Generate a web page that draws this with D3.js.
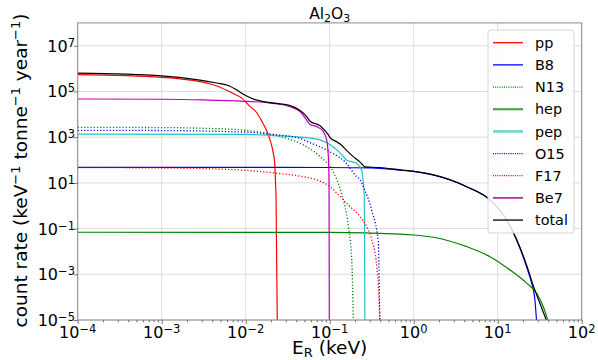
<!DOCTYPE html>
<html>
<head>
<meta charset="utf-8">
<script src="https://cdn.jsdelivr.net/npm/d3@7"></script>
<style>
  body { margin: 0; background: #fff; }
  svg { display: block; font-family: "DejaVu Sans", sans-serif; }
</style>
</head>
<body>
<div id="chart"></div>
<script>
// Spectra: [E_R (keV), count rate]
const pp = [[1e-4, 5.43e5], [1e-3, 4.17e5], [2.86e-3, 2.69e5], [4.52e-3, 1.74e5], [7.11e-3, 8.1e4],
  [8.91e-3, 5.25e4], [1.12e-2, 2.24e4], [1.35e-2, 1.2e4], [1.58e-2, 4.5e3], [1.78e-2, 1.9e3],
  [2.0e-2, 560], [2.13e-2, 200], [2.21e-2, 80], [2.26e-2, 12.6], [2.30e-2, 1.6], [2.33e-2, 0.01], [2.38e-2, 6e-6]];
const B8 = [[1e-4, 48], [1e-2, 47.5], [0.1, 47], [0.316, 45], [0.687, 36], [1.0, 31.6], [1.71, 22.4],
  [4.27, 6.8], [8.09, 1.78], [12.8, 0.24], [16.8, 0.032], [22.1, 2.1e-3], [25.4, 4e-4], [27.5, 1e-4], [29.1, 8e-6]];
const N13 = [[1e-4, 2.69e3], [1e-3, 2.63e3], [3.16e-3, 2.45e3], [1e-2, 2.0e3], [2.0e-2, 1.32e3],
  [3.37e-2, 794], [4.44e-2, 537], [7.67e-2, 141], [0.110, 31], [0.135, 4.5], [0.167, 0.12], [0.183, 4.3e-3], [0.191, 8.9e-6]];
const hep = [[1e-4, 0.069], [0.1, 0.068], [0.687, 0.0575], [1.0, 0.0525], [1.71, 0.0417], [4.27, 0.0162],
  [8.09, 5.9e-3], [14.0, 1.55e-3], [22.1, 4.1e-4], [29.1, 1.48e-4], [34.9, 3.8e-5], [39.8, 8.9e-6]];
const pep = [[1e-4, 1.35e3], [1e-2, 1.32e3], [3.37e-2, 1.07e3], [4.44e-2, 1.0e3], [7.67e-2, 759],
  [0.110, 380], [0.146, 141], [0.158, 100], [0.209, 72], [0.240, 36], [0.251, 11], [0.257, 3.2], [0.260, 0.1], [0.262, 8.9e-6]];
const O15 = [[1e-4, 2.0e3], [1e-3, 1.95e3], [1e-2, 1.66e3], [2.0e-2, 1.35e3], [4.44e-2, 891], [5.32e-2, 661],
  [0.1, 234], [0.158, 72], [0.209, 18.6], [0.231, 13.5], [0.251, 6.8], [0.316, 0.65], [0.380, 0.023], [0.390, 1.5e-4], [0.394, 8.9e-6]];
const F17 = [[1e-4, 46.8], [1e-3, 44.7], [4.52e-3, 40.7], [1e-2, 35.5], [2.51e-2, 25.7], [3.98e-2, 20.9],
  [7.0e-2, 13.5], [0.101, 6.8], [0.133, 2.5], [0.175, 0.91], [0.231, 0.33], [0.277, 0.12], [0.317, 0.032],
  [0.356, 4.3e-3], [0.380, 2.9e-4], [0.398, 8.9e-6]];
const Be7 = [[1e-4, 4.68e4], [1e-3, 4.57e4], [3.16e-3, 4.27e4], [8.55e-3, 3.8e4], [2.13e-2, 3.0e4],
  [3.37e-2, 2.14e4], [4.44e-2, 1.32e4], [5.32e-2, 5.6e3], [5.82e-2, 3.6e3], [7.0e-2, 2.9e3], [8.39e-2, 1.74e3],
  [9.2e-2, 760], [9.62e-2, 166], [9.82e-2, 10], [9.89e-2, 6e-6]];
const total = [[1e-4, 6.3e5], [1e-3, 4.8e5], [2.86e-3, 3.16e5], [4.52e-3, 2.34e5], [6.31e-3, 1.78e5],
  [7.94e-3, 1.12e5], [1e-2, 6.6e4], [1.26e-2, 4.5e4], [1.78e-2, 3.4e4], [3.37e-2, 2.4e4], [4.44e-2, 1.48e4], [5.32e-2, 7.9e3],
  [5.83e-2, 5.0e3], [7.67e-2, 3.16e3], [9.55e-2, 1.32e3], [0.101, 955], [0.121, 631], [0.133, 501], [0.159, 263],
  [0.191, 141], [0.219, 95], [0.240, 69], [0.263, 50], [0.398, 47], [0.687, 37], [1.0, 32], [1.71, 22.4],
  [4.27, 6.8], [8.09, 1.8], [12.8, 0.24], [16.8, 0.033], [22.1, 2.5e-3], [26.5, 3.2e-4], [31.8, 5.4e-5], [38.3, 8.9e-6]];

const seriesNames = ["pp", "B8", "N13", "hep", "pep", "O15", "F17", "Be7", "total"];
const seriesData = [pp, B8, N13, hep, pep, O15, F17, Be7, total];
const xTicks = [1e-4, 1e-3, 1e-2, 1e-1, 1e0, 1e1, 1e2];
const yTicks = [1e-5, 1e-3, 1e-1, 1e1, 1e3, 1e5, 1e7];

// styles per series (plot line / legend line)
const styles = {
  pp:    { color: "#ff0000", dash: null, legColor: "#ff0000", legW: 1.3 },
  B8:    { color: "#0000ff", dash: null, legColor: "#0000ff", legW: 1.3 },
  N13:   { color: "#008000", dash: "1.2,2", legColor: "#008000", legW: 1.2 },
  hep:   { color: "#008000", dash: null, legColor: "#4aa84a", legW: 2.2 },
  pep:   { color: "#20c4c4", dash: null, legColor: "#70d8d8", legW: 2.6 },
  O15:   { color: "#0000ff", dash: "1.2,2", legColor: "#0000ff", legW: 1.2 },
  F17:   { color: "#ff0000", dash: "1.2,2", legColor: "#ff0000", legW: 1.2 },
  Be7:   { color: "#c000c0", dash: null, legColor: "#b030b0", legW: 1.8 },
  total: { color: "#000000", dash: null, legColor: "#000000", legW: 1.3 }
};

const W = 598, H = 360;
const x0 = 77.7, x1 = 581.7, yb = 320, yt = 22.9;

const svg = d3.select("#chart").append("svg")
  .attr("width", W).attr("height", H);

const x = d3.scaleLog().domain([1e-4, 1e2]).range([x0, x1]);
const y = d3.scaleLog().domain([1e-5, 1e8]).range([yb, yt]);

// grid
const grid = svg.append("g");
xTicks.forEach(v => {
  grid.append("line").attr("x1", x(v)).attr("x2", x(v)).attr("y1", yt).attr("y2", yb)
    .attr("stroke", "#dcdcdc").attr("stroke-width", 1);
});
yTicks.forEach(v => {
  grid.append("line").attr("x1", x0).attr("x2", x1).attr("y1", y(v)).attr("y2", y(v))
    .attr("stroke", "#dcdcdc").attr("stroke-width", 1);
});

// clip for curves
svg.append("clipPath").attr("id", "plotclip")
  .append("rect").attr("x", x0).attr("y", yt).attr("width", x1 - x0).attr("height", yb - yt);

const line = d3.line()
  .x(d => x(d[0]))
  .y(d => y(d[1]))
  .curve(d3.curveMonotoneX);

const curves = svg.append("g").attr("clip-path", "url(#plotclip)");
seriesNames.forEach((name, i) => {
  const s = styles[name];
  curves.append("path")
    .datum(seriesData[i])
    .attr("d", line)
    .attr("fill", "none")
    .attr("stroke", s.color)
    .attr("stroke-width", s.dash ? 1.3 : 1.2)
    .attr("stroke-dasharray", s.dash);
});

// frame
svg.append("rect").attr("x", x0).attr("y", yt).attr("width", x1 - x0).attr("height", yb - yt)
  .attr("fill", "none").attr("stroke", "#8a8a8a").attr("stroke-width", 1);

// axes (tick marks)
const minorX = [];
for (let k = -4; k < 2; k++) for (let m = 2; m < 10; m++) minorX.push(m * Math.pow(10, k));

const axX = svg.append("g").attr("transform", `translate(0,${yb})`)
  .call(d3.axisBottom(x).tickValues(xTicks).tickSize(4).tickSizeOuter(0).tickFormat(""));
const axXm = svg.append("g").attr("transform", `translate(0,${yb})`)
  .call(d3.axisBottom(x).tickValues(minorX).tickSize(2.3).tickSizeOuter(0).tickFormat(""));
const axY = svg.append("g").attr("transform", `translate(${x0},0)`)
  .call(d3.axisLeft(y).tickValues(yTicks).tickSize(4).tickSizeOuter(0).tickFormat(""));
[axX, axXm, axY].forEach(g => {
  g.select(".domain").remove();
  g.selectAll("line").attr("stroke", "#666").attr("stroke-width", 0.9);
});

// power-of-ten label helper
function powText(g, v, anchor, px, py) {
  const e = Math.round(Math.log10(v));
  const t = g.append("text").attr("x", px).attr("y", py)
    .attr("text-anchor", anchor).attr("font-size", "16px").attr("fill", "#000");
  t.append("tspan").text("10");
  t.append("tspan").attr("dy", -5).attr("font-size", "11.5px")
    .text(e < 0 ? "\u2212" + (-e) : String(e));
  return t;
}

const labels = svg.append("g");
xTicks.forEach(v => powText(labels, v, "middle", x(v), 338));
yTicks.forEach(v => powText(labels, v, "end", 75, y(v) + 6));

// title
const title = svg.append("text").attr("x", (x0 + x1) / 2).attr("y", 19)
  .attr("text-anchor", "middle").attr("font-size", "15.5px");
title.append("tspan").text("Al");
title.append("tspan").attr("dy", 3).attr("font-size", "11px").text("2");
title.append("tspan").attr("dy", -3).text("O");
title.append("tspan").attr("dy", 3).attr("font-size", "11px").text("3");

// x label
const xl = svg.append("text").attr("x", (x0 + x1) / 2).attr("y", 354)
  .attr("text-anchor", "middle").attr("font-size", "18.5px");
xl.append("tspan").text("E");
xl.append("tspan").attr("dy", 3).attr("font-size", "13px").text("R");
xl.append("tspan").attr("dy", -3).text(" (keV)");

// y label
const yl = svg.append("text")
  .attr("transform", "translate(27,170.5) rotate(-90)")
  .attr("text-anchor", "middle").attr("font-size", "18.5px");
yl.append("tspan").text("count rate (keV");
yl.append("tspan").attr("dy", -7).attr("font-size", "13px").text("\u22121");
yl.append("tspan").attr("dy", 7).text(" tonne");
yl.append("tspan").attr("dy", -7).attr("font-size", "13px").text("\u22121");
yl.append("tspan").attr("dy", 7).text(" year");
yl.append("tspan").attr("dy", -7).attr("font-size", "13px").text("\u22121");
yl.append("tspan").attr("dy", 7).text(")");

// legend
const leg = svg.append("g");
leg.append("rect").attr("x", 488).attr("y", 30).attr("width", 86).attr("height", 203)
  .attr("rx", 3).attr("fill", "#fff").attr("fill-opacity", 0.85)
  .attr("stroke", "#d6d6d6").attr("stroke-width", 1);
seriesNames.forEach((name, i) => {
  const s = styles[name];
  const cy = 42.7 + i * 22.17;
  leg.append("line").attr("x1", 493).attr("x2", 523).attr("y1", cy).attr("y2", cy)
    .attr("stroke", s.legColor).attr("stroke-width", s.legW)
    .attr("stroke-dasharray", s.dash ? "1,1.2" : null);
  leg.append("text").attr("x", 535).attr("y", cy + 5.2)
    .attr("font-size", "14.4px").text(name);
});
</script>
</body>
</html>
